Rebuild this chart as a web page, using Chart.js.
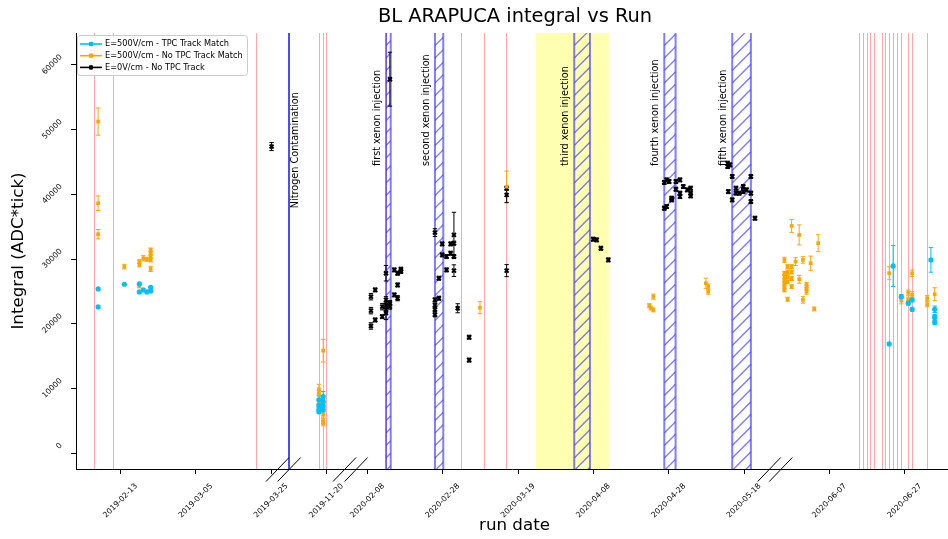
<!DOCTYPE html>
<html>
<head>
<meta charset="utf-8">
<script src="https://cdn.jsdelivr.net/npm/chart.js@4.4.1/dist/chart.umd.min.js"></script>
<style>
  html, body { margin: 0; padding: 0; background: #fff; }
</style>
</head>
<body>
<canvas id="runChart" width="948" height="539"></canvas>
<script>
// ---- data ----
const tickDates = ['2019-02-13', '2019-03-05', '2019-03-25', '2019-11-20', '2020-02-08', '2020-02-28',
  '2020-03-19', '2020-04-08', '2020-04-28', '2020-05-18', '2020-06-07', '2020-06-27'];
const yTicks = [0, 10000, 20000, 30000, 40000, 50000, 60000];

const blueDates = ['2019-02-07T00', '2019-02-07T00', '2019-02-13T23', '2019-02-17T23', '2019-02-17T23',
  '2019-02-19T00', '2019-02-19T23', '2019-02-20T23', '2019-02-20T23',
  '2019-11-17T23', '2019-11-17T23', '2019-11-17T23', '2019-11-17T23',
  '2019-11-19T02', '2019-11-19T02', '2019-11-19T02', '2019-11-19T02',
  '2020-06-22T20', '2020-06-23T21', '2020-06-26T01', '2020-06-27T21', '2020-06-28T22', '2020-06-28T22',
  '2020-07-03T22', '2020-07-04T22', '2020-07-04T22', '2020-07-04T22'];
const blueValues = [25390, 22610, 26120, 26170, 24930, 25240, 24930, 25650, 25080,
  8240, 7400, 6800, 6430, 8750, 8000, 7300, 6690,
  16890, 28950, 24200, 23190, 23700, 22250, 29880, 22250, 21110, 20290];
const blueErrors = [0, 0, 0, 0, 0, 0, 0, 0, 0,
  600, 300, 300, 300, 800, 300, 300, 300,
  0, 3170, 300, 300, 300, 300, 1900, 500, 300, 400];

const orangeDates = ['2019-02-07T00', '2019-02-07T00', '2019-02-07T00', '2019-02-13T23',
  '2019-02-17T23', '2019-02-17T23', '2019-02-17T23', '2019-02-19T00', '2019-02-19T23',
  '2019-02-20T23', '2019-02-20T23', '2019-02-20T23', '2019-02-20T23', '2019-02-20T23',
  '2019-11-17T23', '2019-11-17T23', '2019-11-17T23',
  '2019-11-19T02', '2019-11-19T02', '2019-11-19T02', '2019-11-19T02', '2019-11-19T02',
  '2020-03-08T20', '2020-03-15T22', '2020-04-22T19', '2020-04-23T05', '2020-04-23T21', '2020-04-23T21',
  '2020-05-07T20', '2020-05-08T11', '2020-05-08T11',
  '2020-05-26T00', '2020-05-26T00', '2020-05-26T00', '2020-05-26T00', '2020-05-26T00', '2020-05-26T00', '2020-05-26T00',
  '2020-05-26T20', '2020-05-26T20', '2020-05-26T20', '2020-05-26T20', '2020-05-26T20',
  '2020-05-27T22', '2020-05-27T22', '2020-05-27T22', '2020-05-27T22', '2020-05-27T22',
  '2020-05-28T23', '2020-05-29T22', '2020-05-29T22', '2020-05-30T22', '2020-05-30T22',
  '2020-05-31T21', '2020-05-31T21', '2020-05-31T21', '2020-06-01T23', '2020-06-02T22', '2020-06-03T23',
  '2020-06-22T20', '2020-06-26T01', '2020-06-27T21', '2020-06-27T21', '2020-06-28T22', '2020-06-28T22',
  '2020-07-02T22', '2020-07-02T22', '2020-07-04T22'];
const orangeValues = [51250, 38640, 33850, 28840, 29610, 29100, 25860, 30140, 29980,
  31420, 30910, 30390, 29880, 28490,
  9890, 9300, 8000, 15860, 7200, 6000, 5000, 4640,
  22500, 41200, 22810, 22440, 24200, 22150, 26270, 25750, 24980,
  29880, 27800, 27300, 26700, 26200, 25700, 25240,
  28840, 28000, 27300, 26500, 23800,
  35130, 28840, 28000, 27000, 25750,
  29610, 33740, 26890, 29880, 23700, 26010, 25500, 24980, 29370, 22300, 32460,
  27820, 23590, 24820, 23720, 27820, 24470, 23960, 23030, 24580];
const orangeErrors = [2100, 1130, 720, 360, 300, 300, 300, 400, 300, 300, 300, 300, 300, 400,
  770, 400, 400, 1750, 400, 400, 400, 400,
  930, 2400, 300, 300, 400, 300, 780, 400, 400,
  400, 300, 300, 300, 300, 300, 300,
  300, 300, 300, 300, 300,
  1000, 300, 300, 300, 300,
  600, 1550, 600, 500, 500, 400, 400, 400, 1100, 300, 1300,
  1000, 500, 400, 400, 500, 500, 400, 400, 1000];

const blackDates = ['2019-03-25T02',
  '2020-02-08T21', '2020-02-08T21', '2020-02-08T21', '2020-02-10T00', '2020-02-10T00',
  '2020-02-11T21', '2020-02-11T21',
  '2020-02-12T21', '2020-02-12T21', '2020-02-12T21', '2020-02-12T21', '2020-02-12T21',
  '2020-02-13T22', '2020-02-13T22', '2020-02-13T22', '2020-02-15T02', '2020-02-15T02',
  '2020-02-15T23', '2020-02-15T23', '2020-02-15T23', '2020-02-16T20', '2020-02-16T20',
  '2020-02-25T21', '2020-02-25T21', '2020-02-25T21', '2020-02-25T21', '2020-02-25T21',
  '2020-02-26T22', '2020-02-26T22', '2020-02-27T19', '2020-02-27T19', '2020-02-28T23', '2020-02-28T23',
  '2020-03-01T01', '2020-03-01T01', '2020-03-01T22', '2020-03-01T22', '2020-03-01T22', '2020-03-01T22',
  '2020-03-02T22', '2020-03-05T23', '2020-03-05T23', '2020-03-15T22', '2020-03-15T22', '2020-03-15T22',
  '2020-04-07T22', '2020-04-08T20', '2020-04-09T23', '2020-04-11T22',
  '2020-04-26T19', '2020-04-26T19', '2020-04-27T10', '2020-04-27T10', '2020-04-28T02',
  '2020-04-28T18', '2020-04-28T18', '2020-04-29T21', '2020-04-29T21',
  '2020-04-30T23', '2020-04-30T23', '2020-04-30T23', '2020-05-01T20', '2020-05-02T21',
  '2020-05-03T19', '2020-05-03T19', '2020-05-03T19',
  '2020-05-13T15', '2020-05-13T15', '2020-05-14T06', '2020-05-13T19', '2020-05-14T20', '2020-05-14T20',
  '2020-05-15T20', '2020-05-15T20', '2020-05-16T17', '2020-05-17T18', '2020-05-17T18', '2020-05-18T16',
  '2020-05-19T19', '2020-05-19T19', '2020-05-19T19', '2020-05-20T21'];
const blackValues = [47390,
  24200, 22040, 19670, 25240, 20600, 22660, 21110,
  27820, 23700, 22900, 22200, 21660, 57800, 23190, 22660, 28330, 24470,
  27820, 26010, 23960, 28440, 28100,
  34100, 23700, 22900, 22200, 21400, 27050, 23960, 32350, 30650, 30390, 28330,
  32350, 30910, 33740, 32460, 30390, 28220,
  22410, 17930, 14400, 40960, 39920, 28220,
  33080, 32970, 31680, 29880,
  41830, 37870, 42240, 38120, 41990, 39410, 39150, 41980, 40800,
  42240, 40190, 39660, 41210, 40700, 40960, 40190, 39770,
  44820, 44300, 44560, 40430, 42760, 39150, 40960, 40190, 40190, 41210, 40430, 40700,
  42760, 40190, 38890, 36320];
const blackErrors = [620,
  500, 500, 500, 300, 300, 500, 300,
  1200, 500, 500, 500, 1000, 4170, 400, 400, 300, 300,
  300, 300, 400, 300, 300,
  600, 300, 300, 300, 300, 300, 300, 300, 300, 300, 300,
  300, 300, 3500, 300, 300, 900,
  700, 300, 300, 300, 1200, 930,
  300, 300, 300, 300,
  300, 300, 300, 300, 300, 300, 300, 300, 300,
  300, 300, 300, 300, 300, 300, 300, 300,
  300, 300, 300, 300, 300, 300, 300, 300, 300, 300, 300, 300,
  300, 300, 300, 300];

// run boundaries (red), xenon injections (hatched), filling period (yellow)
const redLineDates = ['2019-02-06T00', '2019-02-11T01', '2019-03-21T03',
  '2019-11-18T00', '2019-11-19T02', '2019-11-20T00',
  '2020-02-13T03', '2020-03-03T23', '2020-03-09T23', '2020-03-15T22',
  '2020-06-14T21', '2020-06-15T22', '2020-06-17T00', '2020-06-17T21', '2020-06-18T20',
  '2020-06-21T02', '2020-06-21T23', '2020-06-22T20', '2020-06-23T21', '2020-06-24T23',
  '2020-06-26T03', '2020-06-27T21', '2020-06-28T22', '2020-07-02T22'];
const xenonStarts = ['2020-02-12T21', '2020-02-25T21', '2020-04-02T21', '2020-04-26T19', '2020-05-14T20'];
const xenonEnds = ['2020-02-14T03', '2020-02-28T02', '2020-04-07T01', '2020-04-29T19', '2020-05-19T19'];
const xenonLabels = ['first xenon injection', 'second xenon injection', 'third xenon injection',
  'fourth xenon injection', 'fifth xenon injection'];
const yellowBand = ['2020-03-23T17', '2020-04-12T02'];
const nitrogenDate = '2019-03-29T20';
const nitrogenLabel = 'Nitrogen Contamination';

// ---- broken date axis: each segment maps real days onto a compressed axis ----
const axisSegments = [
  { from: '2019-01-01', anchor: '2019-02-13', at: 0 },
  { from: '2019-06-01', anchor: '2019-11-20', at: 54.7 },
  { from: '2020-01-01', anchor: '2020-02-08', at: 65.6 },
  { from: '2020-05-23', anchor: '2020-06-07', at: 188.3 },
];
const axisBreaks = [43.2, 61.0, 173.8];

function toDays(s) {
  const [d, h] = s.split('T');
  const [Y, M, D] = d.split('-').map(Number);
  return Date.UTC(Y, M - 1, D, h ? Number(h) : 0) / 86400000;
}
function toAxis(s) {
  const t = toDays(s);
  let seg = axisSegments[0];
  for (const g of axisSegments) if (toDays(g.from) <= t) seg = g;
  return seg.at + t - toDays(seg.anchor);
}
function points(dates, values, errors) {
  return dates.map((d, i) => ({ x: toAxis(d), y: values[i], err: errors[i] }));
}

const FONT = '"DejaVu Sans", sans-serif';

const overlay = {
  id: 'overlay',
  beforeDatasetsDraw(chart) {
    const { ctx, chartArea: a, scales: { x, y } } = chart;
    const px = d => x.getPixelForValue(toAxis(d));
    const h = a.bottom - a.top;
    ctx.save();
    ctx.beginPath();
    ctx.rect(a.left, a.top, a.right - a.left, h);
    ctx.clip();

    ctx.fillStyle = 'rgba(255,255,0,0.3)';
    const b0 = px(yellowBand[0]), b1 = px(yellowBand[1]);
    ctx.fillRect(b0, a.top, b1 - b0, h);

    ctx.strokeStyle = 'rgba(255,0,0,0.35)';
    ctx.lineWidth = 1;
    redLineDates.forEach(d => {
      const xp = Math.floor(px(d)) + 0.5;
      ctx.beginPath(); ctx.moveTo(xp, a.top); ctx.lineTo(xp, a.bottom); ctx.stroke();
    });

    xenonStarts.forEach((s, i) => {
      const x0 = px(s), x1 = px(xenonEnds[i]);
      ctx.save();
      ctx.beginPath(); ctx.rect(x0, a.top, x1 - x0, h); ctx.clip();
      ctx.strokeStyle = 'rgba(40,40,255,0.6)';
      ctx.lineWidth = 1.3;
      ctx.beginPath();
      for (let c = x0 + a.top; c < x1 + a.bottom + 13; c += 12.5) {
        ctx.moveTo(x0, c - x0); ctx.lineTo(x1, c - x1);
      }
      ctx.stroke();
      ctx.restore();
      ctx.strokeStyle = 'rgba(40,40,255,0.6)';
      ctx.lineWidth = 2;
      ctx.strokeRect(x0, a.top - 2, x1 - x0, h + 4);
    });

    const xn = Math.round(px(nitrogenDate));
    ctx.strokeStyle = 'rgba(0,0,255,0.7)';
    ctx.lineWidth = 2;
    ctx.beginPath(); ctx.moveTo(xn, a.top); ctx.lineTo(xn, a.bottom); ctx.stroke();

    ctx.fillStyle = '#000';
    ctx.font = '9.7px ' + FONT;
    ctx.textAlign = 'left';
    ctx.textBaseline = 'middle';
    const vtext = (t, cx, cy) => {
      ctx.save(); ctx.translate(cx, cy); ctx.rotate(-Math.PI / 2); ctx.fillText(t, 0, 0); ctx.restore();
    };
    xenonStarts.forEach((s, i) => vtext(xenonLabels[i], px(s) - 8.7, y.getPixelForValue(44400)));
    vtext(nitrogenLabel, xn + 6.5, y.getPixelForValue(37860));

    // error bars
    chart.data.datasets.forEach((ds, di) => {
      const meta = chart.getDatasetMeta(di);
      ctx.strokeStyle = ds.errColor;
      ctx.lineWidth = 1;
      ds.data.forEach((p, i) => {
        if (!p.err) return;
        const xp = meta.data[i].x;
        const yt = y.getPixelForValue(p.y + p.err), yb = y.getPixelForValue(p.y - p.err);
        ctx.beginPath();
        ctx.moveTo(xp, yt); ctx.lineTo(xp, yb);
        ctx.moveTo(xp - 2.2, yt); ctx.lineTo(xp + 2.2, yt);
        ctx.moveTo(xp - 2.2, yb); ctx.lineTo(xp + 2.2, yb);
        ctx.stroke();
      });
    });
    ctx.restore();
  },
  afterDraw(chart) {
    const { ctx, chartArea: a, scales: { x, y } } = chart;
    ctx.save();
    ctx.fillStyle = '#000';

    // tick labels, rotated 45 degrees
    ctx.font = '7.7px ' + FONT;
    ctx.textAlign = 'right';
    ctx.textBaseline = 'middle';
    tickDates.forEach(d => {
      const tx = x.getPixelForValue(toAxis(d));
      ctx.save(); ctx.translate(tx + 15.6, a.bottom + 16); ctx.rotate(-Math.PI / 4);
      ctx.fillText(d, 0, 0); ctx.restore();
    });
    yTicks.forEach(v => {
      const ty = y.getPixelForValue(v);
      ctx.save(); ctx.translate(a.left - 15, ty - 9); ctx.rotate(-Math.PI / 4);
      ctx.fillText(String(v), 0, 0); ctx.restore();
    });

    // axis break marks
    ctx.strokeStyle = '#000';
    ctx.lineWidth = 1;
    axisBreaks.forEach(b => {
      const c = x.getPixelForValue(b);
      [-5.8, 5.8].forEach(o => {
        ctx.beginPath();
        ctx.moveTo(c + o - 11.5, a.bottom + 12.5);
        ctx.lineTo(c + o + 11.5, a.bottom - 11.5);
        ctx.stroke();
      });
    });

    // titles
    ctx.textAlign = 'center';
    ctx.font = '19.4px ' + FONT;
    ctx.fillText('BL ARAPUCA integral vs Run', 515, 17);
    ctx.font = '16.7px ' + FONT;
    ctx.fillText('run date', 514.5, 526);
    ctx.save(); ctx.translate(18.5, (a.top + a.bottom) / 2); ctx.rotate(-Math.PI / 2);
    ctx.fillText('Integral (ADC*tick)', 0, 0); ctx.restore();

    // legend
    ctx.fillStyle = 'rgba(255,255,255,0.85)';
    ctx.strokeStyle = '#cccccc';
    ctx.beginPath(); ctx.roundRect(77.5, 35.5, 170, 40, 3); ctx.fill(); ctx.stroke();
    ctx.font = '8.2px ' + FONT;
    ctx.textAlign = 'left';
    chart.data.datasets.forEach((ds, i) => {
      const ly = 44 + i * 11.7;
      ctx.strokeStyle = ds.errColor;
      ctx.lineWidth = 1.6;
      ctx.beginPath(); ctx.moveTo(80, ly); ctx.lineTo(102, ly); ctx.stroke();
      ctx.lineWidth = 1;
      ctx.beginPath(); ctx.moveTo(91, ly - 2.5); ctx.lineTo(91, ly + 2.5); ctx.stroke();
      ctx.fillStyle = ds.errColor;
      ctx.fillRect(89, ly - 2, 4, 4);
      ctx.fillStyle = '#000';
      ctx.fillText(ds.label, 105, ly);
    });
    ctx.restore();
  }
};

const axisStyle = {
  ticks: { display: false },
  grid: { drawOnChartArea: false, drawTicks: true, tickLength: 5, color: '#000' },
  border: { display: true, color: '#000', width: 1 },
};

new Chart(document.getElementById('runChart'), {
  type: 'scatter',
  data: {
    datasets: [
      {
        label: 'E=500V/cm - TPC Track Match',
        data: points(blueDates, blueValues, blueErrors),
        backgroundColor: '#00bfff', borderWidth: 0, pointStyle: 'circle', pointRadius: 2.6,
        errColor: '#00bfff',
      },
      {
        label: 'E=500V/cm - No TPC Track Match',
        data: points(orangeDates, orangeValues, orangeErrors),
        backgroundColor: '#ffa500', borderWidth: 0, pointStyle: 'rect', pointRadius: 2.6,
        errColor: '#ffa500',
      },
      {
        label: 'E=0V/cm - No TPC Track',
        data: points(blackDates, blackValues, blackErrors),
        backgroundColor: '#000', borderColor: '#000', borderWidth: 2, pointStyle: 'crossRot', pointRadius: 2.8,
        errColor: '#000',
      },
    ],
  },
  options: {
    responsive: false,
    animation: false,
    devicePixelRatio: 1,
    layout: { autoPadding: false, padding: { top: 33, right: 0, bottom: 0, left: 0 } },
    plugins: { legend: { display: false }, title: { display: false }, tooltip: { enabled: false } },
    scales: {
      x: {
        type: 'linear', min: -11.87, max: 219.75, ...axisStyle,
        afterBuildTicks: s => { s.ticks = tickDates.map(d => ({ value: toAxis(d) })); },
        afterFit: s => { s.height = 70; },
      },
      y: {
        type: 'linear', min: -2430, max: 64940, ...axisStyle,
        afterBuildTicks: s => { s.ticks = yTicks.map(v => ({ value: v })); },
        afterFit: s => { s.width = 76; },
      },
    },
  },
  plugins: [overlay],
});
</script>
</body>
</html>
